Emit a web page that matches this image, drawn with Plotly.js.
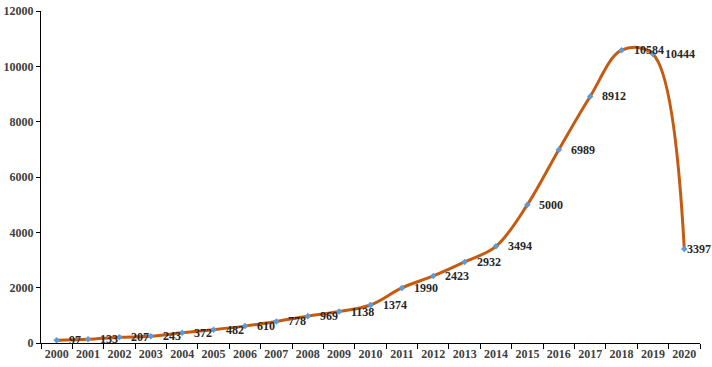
<!DOCTYPE html>
<html>
<head>
<meta charset="utf-8">
<script src="https://cdn.plot.ly/plotly-3.0.1.min.js"></script>
<style>html,body{margin:0;padding:0;background:#fff}#chart{width:712px;height:367px}</style>
</head>
<body>
<div id="chart"></div>
<script>
const years = ["2000","2001","2002","2003","2004","2005","2006","2007","2008","2009","2010","2011","2012","2013","2014","2015","2016","2017","2018","2019","2020"];
const values = [97,133,207,243,372,482,610,778,969,1138,1374,1990,2423,2932,3494,5000,6989,8912,10584,10444,3397];
const labels = values.map(String);

const fontFam = 'Liberation Serif, serif';

const trace = {
  x: years,
  y: values,
  type: 'scatter',
  mode: 'lines+markers',
  line: {color: '#C55A11', width: 3, shape: 'spline', smoothing: 1},
  marker: {color: '#5B9BD5', size: 5, symbol: 'diamond'},
  hoverinfo: 'skip'
};

const lastIdx = years.length - 1;
const annotations = years.map((yr, i) => ({
  xref: 'x', yref: 'y',
  x: i, y: values[i], text: '<b>' + labels[i] + '</b>',
  showarrow: false, xanchor: 'left', yanchor: 'middle', xshift: i === lastIdx ? 1 : 10,
  font: {family: fontFam, size: 12, color: '#262626'}
}));

const layout = {
  width: 712, height: 367,
  margin: {l: 41, r: 12, t: 11, b: 24},
  paper_bgcolor: '#fff', plot_bgcolor: '#fff',
  showlegend: false,
  font: {family: fontFam},
  xaxis: {
    type: 'category', range: [-0.5, 20.5], tickson: 'boundaries', tickangle: 0,
    showgrid: false, zeroline: false, showline: true, linecolor: '#000', linewidth: 1,
    ticks: 'outside', ticklen: 5, tickcolor: '#000',
    tickfont: {family: fontFam, size: 12, color: '#404040', weight: 'bold'}
  },
  yaxis: {
    range: [0, 12000], tickvals: [0,2000,4000,6000,8000,10000,12000],
    ticktext: ['0','2000','4000','6000','8000','10000','12000'],
    showgrid: false, zeroline: false, showline: true, linecolor: '#000', linewidth: 1,
    ticks: 'outside', ticklen: 4, tickcolor: '#000',
    tickfont: {family: fontFam, size: 12, color: '#404040', weight: 'bold'}
  },
  annotations: annotations
};

Plotly.newPlot('chart', [trace], layout, {displayModeBar: false});
</script>
</body>
</html>
